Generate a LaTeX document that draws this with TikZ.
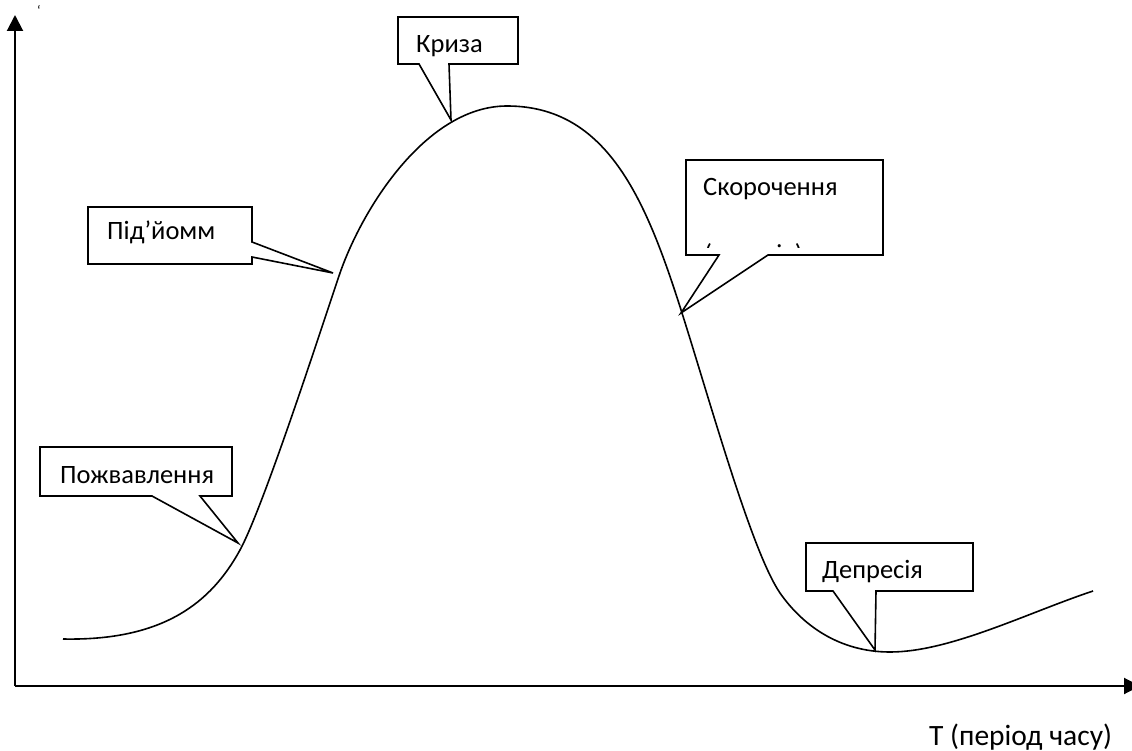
\documentclass[tikz,border=0pt]{standalone}
\usepackage{fontspec}
\setmainfont{Carlito}
\usetikzlibrary{arrows.meta}
\begin{document}
\begin{tikzpicture}[x=1pt,y=-1pt,
  axis/.style={line width=2pt,-{Triangle[length=16pt,width=16pt]}},
  curve/.style={line width=1.6pt},
  callout/.style={line width=1.6pt, fill=white, line join=miter},
  lbl/.style={anchor=base west, inner sep=0pt, font=\fontsize{26.5}{30}\selectfont},
  axlbl/.style={anchor=base west, inner sep=0pt, font=\fontsize{29.5}{34}\selectfont}]
\useasboundingbox (0,0) rectangle (1132,751);
% axes
\coordinate (O) at (15,686);
\coordinate (ytop) at (15,15);
\coordinate (xend) at (1140,686);
\draw[axis] (O) -- (ytop);
\draw[axis] (O) -- (xend);
\node[anchor=base west, inner sep=0pt, font=\fontsize{14}{16}\selectfont] (tick) at (37,16) {`};
\node[axlbl] (tlabel) at (929,745) {Т (період часу)};
% curve
\draw[curve] (63,639) .. controls (163,641) and (211,603) .. (240,550)
  .. controls (264,506) and (324,320) .. (340,273)
  .. controls (363,207) and (427,106) .. (507,106)
  .. controls (607,106) and (646,199) .. (682,313)
  .. controls (712,408) and (752,552) .. (780,593)
  .. controls (803,626) and (840,652) .. (890,652)
  .. controls (950,652) and (1027,613) .. (1093,591);
% callout tips
\coordinate (tKr) at (451,120);
\coordinate (tPi) at (333,273);
\coordinate (tSk) at (681,313);
\coordinate (tPo) at (238,543);
\coordinate (tDe) at (875,650);
% callouts
\draw[callout] (398,17) -- (518,17) -- (518,64) -- (449,64) -- (tKr) -- (419,64) -- (398,64) -- cycle;
\node[lbl] (kryza) at (416,53) {Криза};
\draw[callout] (88,207) -- (252,207) -- (252,242) -- (tPi) -- (252,257) -- (252,264) -- (88,264) -- cycle;
\node[lbl] (pidyom) at (107,240) {Під’йомм};
\draw[callout] (686,160) -- (883,160) -- (883,255) -- (768,255) -- (tSk) -- (719,255) -- (686,255) -- cycle;
\node[lbl] (skor) at (703,196) {Скорочення};
\begin{scope}
\clip (690,230) rectangle (880,247.5);
\node[anchor=base west, inner sep=0pt, font=\fontsize{26}{30}\selectfont] (rec) at (704,263) {(рецесія)};
\end{scope}
\draw[callout] (40,447) -- (232,447) -- (232,496) -- (200,496) -- (tPo) -- (152,496) -- (40,496) -- cycle;
\node[lbl] (pozh) at (60,483) {Пожвавлення};
\draw[callout] (806,543) -- (973,543) -- (973,591) -- (876,591) -- (tDe) -- (833,591) -- (806,591) -- cycle;
\node[lbl] (depr) at (822,578) {Депресія};
\end{tikzpicture}
\end{document}
